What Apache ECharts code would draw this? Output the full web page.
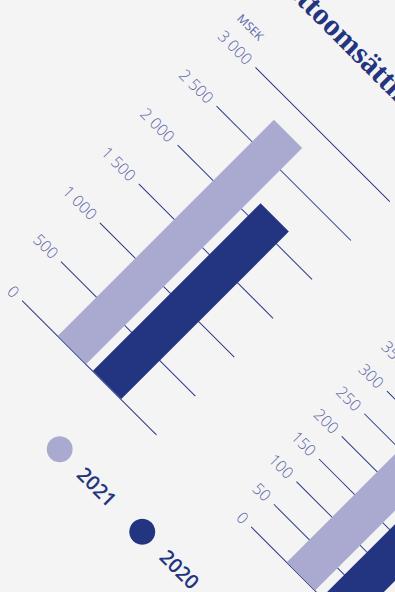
<!DOCTYPE html>
<html>
<head>
<meta charset="utf-8">
<script src="https://cdn.jsdelivr.net/npm/echarts@6/dist/echarts.min.js"></script>
<style>
  html, body { margin: 0; padding: 0; background: #f4f4f4; overflow: hidden; width: 395px; height: 592px; }
  #chart { position: absolute; transform-origin: 0 0; transform: rotate(45deg); }
</style>
</head>
<body>
<div id="chart"></div>
<script>
// Data
const years = ['2021', '2020'];
const salesTitle = 'Nettoomsättning';
const salesUnit = 'MSEK';
const salesValues = [2782, 2158];      // 2021, 2020
const salesTicks = { max: 3000, step: 500 };
const secondValues = [372, 301];       // 2021, 2020
const secondTicks = { max: 500, step: 50 };

// Layout of the (unrotated) drawing frame
const W = 640, H = 720;
const X0 = 120, Y0 = 480;              // foot of the first value axis
const ORIGIN = { x: 22.7, y: 300 };    // where that point lands on screen
const C = Math.SQRT1_2;
const el = document.getElementById('chart');
el.style.width = W + 'px';
el.style.height = H + 'px';
el.style.left = (ORIGIN.x - C * (X0 - Y0)) + 'px';
el.style.top = (ORIGIN.y - C * (X0 + Y0)) + 'px';

const navy = '#233580';
const lilac = '#aaaad0';
const lineColor = '#2c3a88';
const labelColor = '#5a64a8';
const fmt = v => String(v).replace(/\B(?=(\d{3})+(?!\d))/g, ' ');

const gridW = 190;
const h1 = 329.4, h2 = 319;

function valueAxis(idx, ticks) {
  return {
    type: 'value', gridIndex: idx, min: 0, max: ticks.max, interval: ticks.step,
    axisLine: { show: false }, axisTick: { show: false },
    splitLine: { show: true, lineStyle: { color: lineColor, width: 1 } },
    axisLabel: { margin: 8, color: labelColor, fontSize: 16, fontWeight: 300,
                 fontFamily: 'Open Sans', formatter: fmt }
  };
}
function catAxis(idx) {
  return {
    type: 'category', gridIndex: idx, data: [''],
    axisLine: { show: false }, axisTick: { show: false }, axisLabel: { show: false },
    splitLine: { show: false }
  };
}

const chart = echarts.init(el, null, { renderer: 'svg', width: W, height: H });
const y1 = valueAxis(0, salesTicks);
y1.name = salesUnit;
y1.nameLocation = 'end';
y1.nameGap = 25;
y1.nameTextStyle = { color: labelColor, fontSize: 12, fontFamily: 'Open Sans',
                     align: 'right', verticalAlign: 'middle', padding: [0, 16, 0, 0] };

chart.setOption({
  backgroundColor: 'transparent',
  animation: false,
  title: {
    text: salesTitle, left: X0 - 54, top: 50, padding: 0,
    textStyle: { fontFamily: 'Liberation Serif', fontWeight: 'bold', fontSize: 31, color: navy }
  },
  legend: {
    data: years, orient: 'horizontal', left: X0 + 131.7 - 13, top: Y0 + 79 - 13,
    padding: 0, itemWidth: 26, itemHeight: 26, itemGap: 28, icon: 'circle',
    textStyle: { color: navy, fontSize: 20, fontFamily: 'Open Sans', fontWeight: 600,
                 padding: [0, 0, 0, 12] }
  },
  grid: [
    { left: X0, top: Y0 - h1, width: gridW, height: h1 },
    { left: X0 + 322, top: Y0 - 2 - h2, width: gridW, height: h2 }
  ],
  xAxis: [catAxis(0), catAxis(1)],
  yAxis: [y1, valueAxis(1, secondTicks)],
  series: [
    { name: years[0], type: 'bar', xAxisIndex: 0, yAxisIndex: 0, data: [salesValues[0]],
      barWidth: 40, barGap: '24%', itemStyle: { color: lilac } },
    { name: years[1], type: 'bar', xAxisIndex: 0, yAxisIndex: 0, data: [salesValues[1]],
      barWidth: 40, barGap: '24%', itemStyle: { color: navy } },
    { name: years[0], type: 'bar', xAxisIndex: 1, yAxisIndex: 1, data: [secondValues[0]],
      barWidth: 40, barGap: '24%', itemStyle: { color: lilac } },
    { name: years[1], type: 'bar', xAxisIndex: 1, yAxisIndex: 1, data: [secondValues[1]],
      barWidth: 40, barGap: '24%', itemStyle: { color: navy } }
  ]
});
</script>
</body>
</html>
